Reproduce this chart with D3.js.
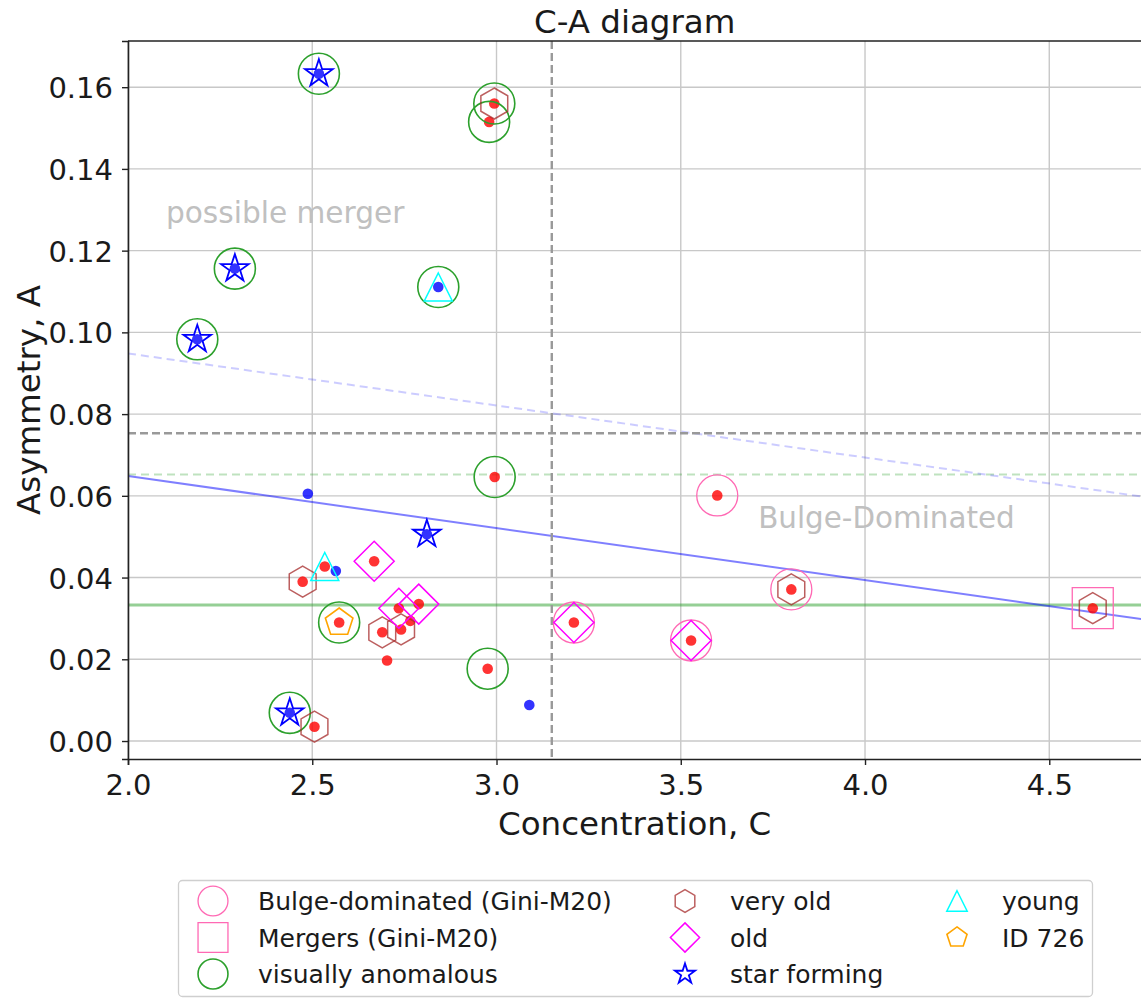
<!DOCTYPE html>
<html>
<head>
<meta charset="utf-8">
<script src="https://cdn.jsdelivr.net/npm/d3@7"></script>
<style>
body { margin:0; background:#fff; }
text { font-family:"DejaVu Sans", sans-serif; }
</style>
</head>
<body>
<div id="chart"></div>
<script>
// galaxies: concentration, asymmetry, colour of the base dot
var conc = [2.518, 2.994, 2.980, 2.290, 2.842, 2.188, 2.995, 2.488, 2.811, 2.668,
            2.534, 2.564, 2.474, 2.735, 2.789, 2.766, 2.690, 2.741, 2.573, 2.703,
            2.976, 3.089, 2.439, 2.506, 3.210, 3.599, 3.528, 3.800, 4.618];
var asym = [0.1633, 0.1560, 0.1515, 0.1156, 0.1111, 0.0983, 0.0646, 0.0605, 0.0506, 0.0440,
            0.0427, 0.0416, 0.0390, 0.0325, 0.0335, 0.0294, 0.0266, 0.0273, 0.0290, 0.0197,
            0.0177, 0.0088, 0.0069, 0.0035, 0.0290, 0.0601, 0.0246, 0.0371, 0.0325];
var dotType = ["b","r","r","b","b","b","r","b","b","r",
               "r","b","r","r","r","r","r","r","r","r",
               "r","b","b","r","r","r","r","r","r"];

// membership of each class (indices into the arrays above)
var bulgeIdx = [24, 25, 26, 27];
var mergerIdx = [28];
var anomalousIdx = [0, 1, 2, 3, 4, 5, 6, 18, 20, 22];
var veryOldIdx = [1, 12, 16, 17, 23, 27, 28];
var oldIdx = [9, 13, 14, 24, 26];
var starIdx = [0, 3, 5, 8, 22];
var youngIdx = [4, 10];
var id726Idx = [18];

var xTicks = [2.0, 2.5, 3.0, 3.5, 4.0, 4.5];
var yTicks = [0.00, 0.02, 0.04, 0.06, 0.08, 0.10, 0.12, 0.14, 0.16];

// reference lines
var cutC = 3.15;
var cutA = 0.0753;
var greenA = 0.0333;
var greenDashA = 0.0652;
var lineSlope = -0.01273;
var lineIntercept = 0.0903;
var dashOffset = 0.030;

var width = 1141, height = 998;
var pLeft = 128, pRight = 1141.4, pTop = 41, pBottom = 759;

var x = d3.scaleLinear().domain([2, 4.75]).range([pLeft, pRight]);
var y = d3.scaleLinear().domain([-0.0044, 0.1713]).range([pBottom, pTop]);

var svg = d3.select("#chart").append("svg")
    .attr("width", width)
    .attr("height", height);

svg.append("defs").append("clipPath").attr("id", "clip")
    .append("rect")
    .attr("x", pLeft).attr("y", pTop)
    .attr("width", width - pLeft).attr("height", pBottom - pTop);

// marker outlines centred on 0,0
function shape(type, r) {
    var pts = [];
    if (type == "circle") {
        return "M" + (-r) + ",0A" + r + "," + r + " 0 1,0 " + r + ",0A" + r + "," + r + " 0 1,0 " + (-r) + ",0Z";
    }
    if (type == "square") pts = [[-r,-r],[r,-r],[r,r],[-r,r]];
    if (type == "diamond") pts = [[0,-r],[r,0],[0,r],[-r,0]];
    if (type == "triangle") pts = [[0,-r],[r,r],[-r,r]];
    if (type == "hexagon") {
        for (var i = 0; i < 6; i++) {
            var a = (-90 + i*60) * Math.PI/180;
            pts.push([r*Math.cos(a), r*Math.sin(a)]);
        }
    }
    if (type == "pentagon") {
        for (var i = 0; i < 5; i++) {
            var a = (-90 + i*72) * Math.PI/180;
            pts.push([r*Math.cos(a), r*Math.sin(a)]);
        }
    }
    if (type == "star") {
        for (var i = 0; i < 10; i++) {
            var a = (-90 + i*36) * Math.PI/180;
            var rr = i % 2 == 0 ? r : r*0.381966;
            pts.push([rr*Math.cos(a), rr*Math.sin(a)]);
        }
    }
    return "M" + pts.map(function(p){ return p[0].toFixed(2) + "," + p[1].toFixed(2); }).join("L") + "Z";
}

var classes = [
    {label:"Bulge-dominated (Gini-M20)", idx:bulgeIdx, type:"circle", r:20.5, color:"#ff69b4", w:1.3},
    {label:"Mergers (Gini-M20)", idx:mergerIdx, type:"square", r:20.5, color:"#ff69b4", w:1.3},
    {label:"visually anomalous", idx:anomalousIdx, type:"circle", r:20.5, color:"#2ca02c", w:1.6},
    {label:"very old", idx:veryOldIdx, type:"hexagon", r:15.5, color:"#a52a2a", w:1.5, op:0.75},
    {label:"old", idx:oldIdx, type:"diamond", r:20, color:"#ff00ff", w:1.5},
    {label:"star forming", idx:starIdx, type:"star", r:14.5, color:"#0000ff", w:1.8},
    {label:"young", idx:youngIdx, type:"triangle", r:14, color:"#00ffff", w:1.5},
    {label:"ID 726", idx:id726Idx, type:"pentagon", r:14.5, color:"#ffa500", w:1.6}
];

//grid
svg.append("g")
    .selectAll("line.gx")
    .data(xTicks)
    .enter().append("line")
    .attr("x1", d => x(d)).attr("x2", d => x(d))
    .attr("y1", pTop).attr("y2", pBottom)
    .attr("stroke", "#c8c8c8").attr("stroke-width", 1.4);
svg.append("g")
    .selectAll("line.gy")
    .data(yTicks)
    .enter().append("line")
    .attr("x1", pLeft).attr("x2", width)
    .attr("y1", d => y(d)).attr("y2", d => y(d))
    .attr("stroke", "#c8c8c8").attr("stroke-width", 1.4);

var plot = svg.append("g").attr("clip-path", "url(#clip)");

//reference lines
plot.append("line")
    .attr("x1", x(2)).attr("x2", x(4.75))
    .attr("y1", y(greenA)).attr("y2", y(greenA))
    .attr("stroke", "#2ca02c").attr("stroke-opacity", 0.5).attr("stroke-width", 3);
plot.append("line")
    .attr("x1", x(2)).attr("x2", x(4.75))
    .attr("y1", y(greenDashA)).attr("y2", y(greenDashA))
    .attr("stroke", "#2ca02c").attr("stroke-opacity", 0.3).attr("stroke-width", 2)
    .attr("stroke-dasharray", "8,5");
plot.append("line")
    .attr("x1", x(2)).attr("x2", x(4.75))
    .attr("y1", y(lineIntercept + lineSlope*2)).attr("y2", y(lineIntercept + lineSlope*4.75))
    .attr("stroke", "#0000ff").attr("stroke-opacity", 0.5).attr("stroke-width", 2);
plot.append("line")
    .attr("x1", x(2)).attr("x2", x(4.75))
    .attr("y1", y(lineIntercept + dashOffset + lineSlope*2)).attr("y2", y(lineIntercept + dashOffset + lineSlope*4.75))
    .attr("stroke", "#0000ff").attr("stroke-opacity", 0.2).attr("stroke-width", 2)
    .attr("stroke-dasharray", "8,5");
plot.append("line")
    .attr("x1", x(2)).attr("x2", x(4.75))
    .attr("y1", y(cutA)).attr("y2", y(cutA))
    .attr("stroke", "#999").attr("stroke-width", 2.4)
    .attr("stroke-dasharray", "8,4");
plot.append("line")
    .attr("x1", x(cutC)).attr("x2", x(cutC))
    .attr("y1", pTop).attr("y2", pBottom)
    .attr("stroke", "#999").attr("stroke-width", 2.4)
    .attr("stroke-dasharray", "8,4");

//region labels
plot.append("text")
    .attr("x", x(2.103)).attr("y", y(0.1267))
    .attr("fill", "#c0c0c0").style("font-size", "29.6px")
    .text("possible merger");
plot.append("text")
    .attr("x", x(3.71)).attr("y", y(0.0521))
    .attr("fill", "#c0c0c0").style("font-size", "29.4px")
    .text("Bulge-Dominated");

//base dots
plot.append("g")
    .selectAll("circle")
    .data(d3.range(conc.length))
    .enter().append("circle")
    .attr("cx", i => x(conc[i]))
    .attr("cy", i => y(asym[i]))
    .attr("r", 5.3)
    .attr("fill", i => dotType[i] == "r" ? "#ff0000" : "#0000ff")
    .attr("fill-opacity", 0.8);

//class markers
classes.forEach(function(c){
    plot.append("g")
        .selectAll("path")
        .data(c.idx)
        .enter().append("path")
        .attr("transform", i => "translate(" + x(conc[i]) + "," + y(asym[i]) + ")")
        .attr("d", shape(c.type, c.r))
        .attr("fill", "none")
        .attr("stroke", c.color)
        .attr("stroke-opacity", c.op || 1)
        .attr("stroke-width", c.w);
});

//axes
var xAxis = svg.append("g")
    .attr("transform", "translate(0," + pBottom + ")")
    .call(d3.axisBottom(x).tickValues(xTicks).tickFormat(d3.format(".1f")).tickSizeOuter(0).tickSize(6));
xAxis.select(".domain").attr("stroke", "#222").attr("stroke-width", 1.6);
xAxis.selectAll(".tick line").attr("stroke", "#222").attr("stroke-width", 1.4);
xAxis.selectAll(".tick text")
    .attr("y", 14).attr("dy", "0.76em")
    .attr("fill", "#1a1a1a")
    .style("font-size", "29px").style("font-family", "DejaVu Sans");

var yAxis = svg.append("g")
    .attr("transform", "translate(" + pLeft + ",0)")
    .call(d3.axisLeft(y).tickValues(yTicks).tickFormat(d3.format(".2f")).tickSizeOuter(0).tickSize(6));
yAxis.select(".domain").attr("stroke", "#222").attr("stroke-width", 1.6);
yAxis.selectAll(".tick line").attr("stroke", "#222").attr("stroke-width", 1.4);
yAxis.selectAll(".tick text")
    .attr("x", -15).attr("dy", "0.36em")
    .attr("fill", "#1a1a1a")
    .style("font-size", "29px").style("font-family", "DejaVu Sans");

svg.append("line")
    .attr("x1", pLeft).attr("x2", width)
    .attr("y1", pTop).attr("y2", pTop)
    .attr("stroke", "#222").attr("stroke-width", 1.6);

//titles
svg.append("text")
    .attr("x", (pLeft + pRight)/2).attr("y", 33)
    .style("text-anchor", "middle").style("font-size", "32.5px")
    .attr("fill", "#1a1a1a")
    .text("C-A diagram");
svg.append("text")
    .attr("x", (pLeft + pRight)/2).attr("y", 835)
    .style("text-anchor", "middle").style("font-size", "32.5px")
    .attr("fill", "#1a1a1a")
    .text("Concentration, C");
svg.append("text")
    .attr("transform", "rotate(-90)")
    .attr("x", -(pTop + pBottom)/2).attr("y", 40)
    .style("text-anchor", "middle").style("font-size", "32.5px")
    .attr("fill", "#1a1a1a")
    .text("Asymmetry, A");

//legend
var legend = svg.append("g");
legend.append("rect")
    .attr("x", 178.5).attr("y", 880.5)
    .attr("width", 914).attr("height", 116)
    .attr("rx", 4)
    .attr("fill", "#fff").attr("stroke", "#cfcfcf").attr("stroke-width", 1.3);

var colX = [213, 685, 957];
var rowY = [901, 937.5, 974];
classes.forEach(function(c, k){
    var col = Math.floor(k/3), row = k % 3;
    legend.append("path")
        .attr("transform", "translate(" + colX[col] + "," + rowY[row] + ")")
        .attr("d", shape(c.type, c.r*0.73))
        .attr("fill", "none")
        .attr("stroke", c.color)
        .attr("stroke-opacity", c.op || 1)
        .attr("stroke-width", c.w);
    legend.append("text")
        .attr("x", colX[col] + 45).attr("y", rowY[row])
        .attr("dy", "0.36em")
        .attr("fill", "#1a1a1a")
        .style("font-size", "25px")
        .text(c.label);
});
</script>
</body>
</html>
